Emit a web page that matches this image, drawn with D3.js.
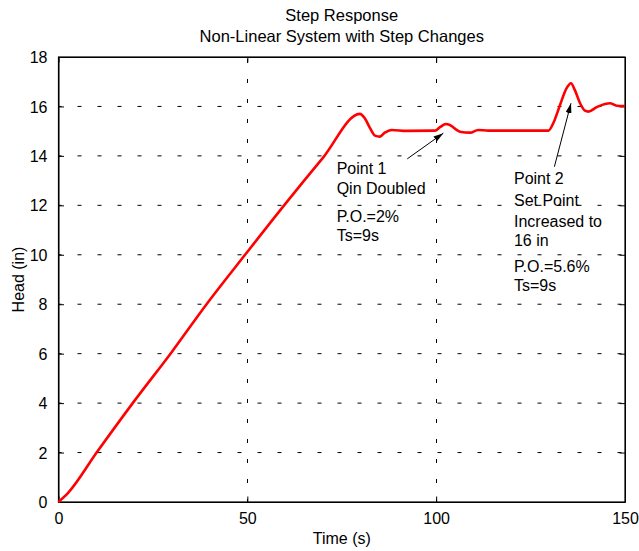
<!DOCTYPE html>
<html>
<head>
<meta charset="utf-8">
<script src="https://cdn.jsdelivr.net/npm/d3@7"></script>
<style>
  body { margin: 0; background: #fff; }
  text { font-family: "Liberation Sans", Arial, sans-serif; font-size: 16px; fill: #000; }
</style>
</head>
<body>
<svg id="chart" width="639" height="551"></svg>
<script>
// DATA
var timeValues = [0, 2.6, 10.1, 20, 30, 39.2, 49.4, 60, 70, 79.8, 81.1, 82.5, 83.8, 85.1, 86.4, 88.2, 92.2, 99.7, 101, 102.6, 103.6, 106.3, 109, 111.1, 113.8, 120, 129.7, 131, 132.8, 134.5, 135.7, 136.7, 138.1, 139.4, 140.3, 142.5, 144.7, 146, 147.8, 150];
var headValues = [0, 0.38, 2.0, 4.07, 6.07, 8.0, 10.0, 12.05, 13.92, 15.70, 15.52, 15.12, 14.82, 14.78, 14.94, 15.05, 15.01, 15.02, 15.16, 15.29, 15.25, 14.98, 14.94, 15.05, 15.02, 15.02, 15.02, 15.32, 16.06, 16.73, 16.94, 16.67, 16.13, 15.83, 15.79, 15.97, 16.1, 16.13, 16.03, 16.02];

var xTicks = [0, 50, 100, 150];
var yTicks = [0, 2, 4, 6, 8, 10, 12, 14, 16, 18];

var titleLines = ['Step Response', 'Non-Linear System with Step Changes'];
var xLabel = 'Time (s)';
var yLabel = 'Head (in)';

// annotation text blocks, anchored in data coords (x, baseline y per line)
var note1Lines = ['Point 1', 'Qin Doubled', 'P.O.=2%', 'Ts=9s'];
var note1X = 73.65;
var note1Y = [13.27, 12.46, 11.33, 10.57];
var note2Lines = ['Point 2', 'Set Point', 'Increased to', '16 in', 'P.O.=5.6%', 'Ts=9s'];
var note2X = 120.6;
var note2Y = [12.86, 11.99, 11.14, 10.37, 9.32, 8.55];

// arrows: [tailX, tailY, tipX, tipY] in data coords
var arrow1 = [92.35, 13.88, 101.9, 14.92];
var arrow2 = [131.3, 13.56, 135.7, 16.13];

// SCALES
var svg = d3.select('#chart');
var x = d3.scaleLinear().domain([0, 150]).range([58.5, 625]);
var y = d3.scaleLinear().domain([0, 18]).range([502, 57]);
var tickLen = 5.5;

// grid lines (dashed)
var grid = svg.append('g');
grid.selectAll('.hgrid').data(yTicks.slice(1, -1)).enter().append('line')
    .attr('x1', x(0)).attr('x2', x(150))
    .attr('y1', function(d){ return y(d); }).attr('y2', function(d){ return y(d); })
    .attr('stroke', '#000').attr('stroke-width', 1)
    .attr('stroke-dasharray', '4,16').attr('stroke-dashoffset', 1);
grid.selectAll('.vgrid').data(xTicks.slice(1, -1)).enter().append('line')
    .attr('x1', function(d){ return Math.round(x(d)) + 0.5; }).attr('x2', function(d){ return Math.round(x(d)) + 0.5; })
    .attr('y1', y(0)).attr('y2', y(18))
    .attr('stroke', '#000').attr('stroke-width', 1)
    .attr('stroke-dasharray', '4,16').attr('stroke-dashoffset', 1);

// axes (ticks inward, all four sides)
var axB = d3.axisBottom(x).tickValues(xTicks).tickSizeInner(-tickLen).tickSizeOuter(0).tickPadding(11);
var axT = d3.axisTop(x).tickValues(xTicks).tickSizeInner(-tickLen).tickSizeOuter(0).tickFormat('');
var axL = d3.axisLeft(y).tickValues(yTicks).tickSizeInner(-tickLen).tickSizeOuter(0).tickPadding(11);
var axR = d3.axisRight(y).tickValues(yTicks).tickSizeInner(-tickLen).tickSizeOuter(0).tickFormat('');

var gB = svg.append('g').attr('transform', 'translate(0,' + y(0) + ')').call(axB);
var gT = svg.append('g').attr('transform', 'translate(0,' + y(18) + ')').call(axT);
var gL = svg.append('g').attr('transform', 'translate(' + x(0) + ',0)').call(axL);
var gR = svg.append('g').attr('transform', 'translate(' + x(150) + ',0)').call(axR);
[gB, gT, gL, gR].forEach(function(g){
    g.selectAll('text').style('font-family', '"Liberation Sans", Arial, sans-serif').style('font-size', '16px').attr('fill', '#000');
    g.selectAll('line, path').attr('stroke', '#000');
    g.attr('font-family', null).attr('font-size', null);
});
gB.selectAll('text').attr('dy', '0.71em');
gL.selectAll('text').attr('dy', '0.35em');

// box on top
svg.append('rect')
    .attr('x', x(0)).attr('y', y(18))
    .attr('width', x(150) - x(0)).attr('height', y(0) - y(18))
    .attr('fill', 'none').attr('stroke', '#000').attr('stroke-width', 1.2);

// response curve
var points = timeValues.map(function(t, i){ return [t, headValues[i]]; });
var line = d3.line()
    .x(function(d){ return x(d[0]); })
    .y(function(d){ return y(d[1]); })
    .curve(d3.curveMonotoneX);
svg.append('path').datum(points)
    .attr('d', line)
    .attr('fill', 'none').attr('stroke', '#ff0000').attr('stroke-width', 2.6)
    .attr('stroke-linejoin', 'round');

// annotations
function addNote(lines, nx, ny){
    svg.append('g').selectAll('text').data(lines).enter().append('text')
        .attr('x', x(nx))
        .attr('y', function(d, i){ return y(ny[i]); })
        .text(function(d){ return d; });
}
addNote(note1Lines, note1X, note1Y);
addNote(note2Lines, note2X, note2Y);

svg.append('defs').append('marker')
    .attr('id', 'head').attr('viewBox', '0 0 10 6')
    .attr('refX', 10).attr('refY', 3)
    .attr('markerWidth', 10).attr('markerHeight', 6)
    .attr('markerUnits', 'userSpaceOnUse')
    .attr('orient', 'auto')
  .append('path').attr('d', 'M0,0L10,3L0,6Z').attr('fill', '#000');

[arrow1, arrow2].forEach(function(a){
    svg.append('line')
        .attr('x1', x(a[0])).attr('y1', y(a[1]))
        .attr('x2', x(a[2])).attr('y2', y(a[3]))
        .attr('stroke', '#000').attr('stroke-width', 1)
        .attr('marker-end', 'url(#head)');
});

// titles & labels
svg.append('g').selectAll('text').data(titleLines).enter().append('text')
    .attr('x', (x(0) + x(150)) / 2)
    .attr('y', function(d, i){ return 20.5 + i * 21; })
    .attr('text-anchor', 'middle')
    .style('font-size', '16.5px')
    .text(function(d){ return d; });

svg.append('text')
    .attr('x', (x(0) + x(150)) / 2).attr('y', 544)
    .attr('text-anchor', 'middle')
    .text(xLabel);

svg.append('text')
    .attr('transform', 'translate(24,' + ((y(0) + y(18)) / 2) + ') rotate(-90)')
    .attr('text-anchor', 'middle')
    .text(yLabel);
</script>
</body>
</html>
